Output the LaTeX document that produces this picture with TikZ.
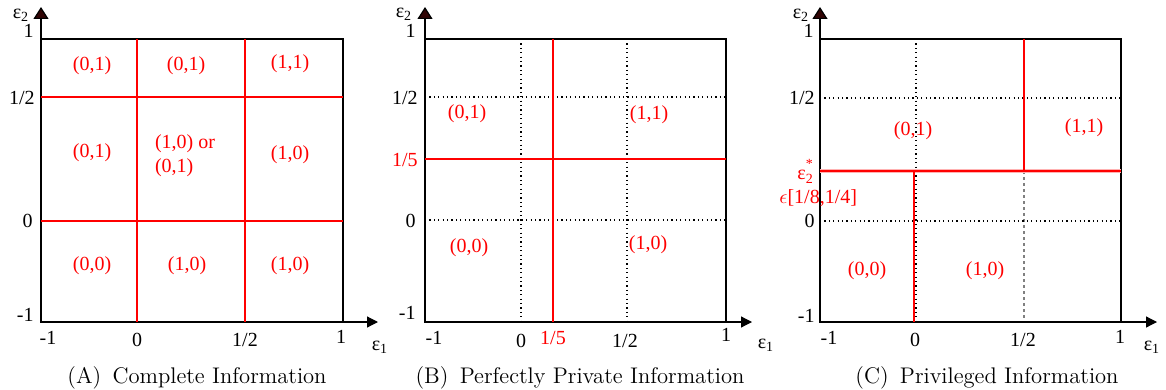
\documentclass[tikz,border=0pt]{standalone}
\usepackage{fontspec}
\newfontfamily\lab{Liberation Serif}
\usetikzlibrary{arrows.meta}
\begin{document}
\begin{tikzpicture}[x=0.5pt,y=-0.5pt,
  frame/.style={black, line width=1pt},
  redl/.style={red, line width=1pt},
  dotl/.style={black, line width=0.55pt, dash pattern=on 0.6pt off 1.6pt},
  gdash/.style={gray, line width=0.6pt, dash pattern=on 1.6pt off 1.4pt},
  axis/.style={line width=0.6pt, -{Triangle[length=5.5pt,width=5.5pt]}},
  yaxis/.style={line width=0.6pt, -{Triangle[length=6pt,width=7.5pt,fill={rgb,255:red,50;green,5;blue,5}]}},
  lbl/.style={font=\lab\fontsize{10}{12}\selectfont, text=red, inner sep=0pt},
  tick/.style={font=\lab\fontsize{10}{12}\selectfont, inner sep=0pt},
  captxt/.style={font=\fontsize{11.3}{13}\selectfont, inner sep=0pt}]
\useasboundingbox (0,0) rectangle (1166,390);

% ---------------- Panel A ----------------
\draw[yaxis] (41,322) -- (41,7);
\draw[axis] (41,322) -- (378,322);
\draw[frame] (41,39) rectangle (343,322);
\draw[redl] (137,39) -- (137,322);
\draw[redl] (245,39) -- (245,322);
\draw[redl] (41,97) -- (343,97);
\draw[redl] (41,221) -- (343,221);
\node[tick] (ae2) at (21,15) {ε\textsubscript{2}};
\node[tick, anchor=east] (ay1) at (34,31) {1};
\node[tick, anchor=east] (ayh) at (35,98) {1/2};
\node[tick, anchor=east] (ay0) at (33,221) {0};
\node[tick, anchor=east] (aym) at (34,315) {-1};
\node[tick] (axm) at (48,338) {-1};
\node[tick] (ax0) at (137,340) {0};
\node[tick] (axh) at (245,340) {1/2};
\node[tick] (ax1) at (341,337) {1};
\node[tick] (ae1) at (380,347) {ε\textsubscript{1}};
\node[lbl] (a11) at (92,66) {(0,1)};
\node[lbl] (a12) at (186,66) {(0,1)};
\node[lbl] (a13) at (290,64) {(1,1)};
\node[lbl] (a21) at (92,153) {(0,1)};
\node[lbl, align=left] (a22) at (185,156) {(1,0) or\\(0,1)};
\node[lbl] (a23) at (290,155) {(1,0)};
\node[lbl] (a31) at (92,266) {(0,0)};
\node[lbl] (a32) at (187,266) {(1,0)};
\node[lbl] (a33) at (290,266) {(1,0)};
\node[captxt] (capA) at (197,378) {(A)\enspace Complete Information};

% ---------------- Panel B ----------------
\draw[dotl] (521,39) -- (521,322);
\draw[dotl] (627,39) -- (627,322);
\draw[dotl] (425,97) -- (726,97);
\draw[dotl] (425,220) -- (726,220);
\draw[yaxis] (425,322) -- (425,7);
\draw[axis] (425,322) -- (752,322);
\draw[frame] (425,39) rectangle (726,322);
\draw[redl] (553,39) -- (553,322);
\draw[redl] (425,159) -- (726,159);
\node[tick] (be2) at (404,14) {ε\textsubscript{2}};
\node[tick, anchor=east] (by1) at (416,31) {1};
\node[tick, anchor=east] (byh) at (418,98) {1/2};
\node[tick, anchor=east, text=red] (byf) at (418,160) {1/5};
\node[tick, anchor=east] (by0) at (416,221) {0};
\node[tick, anchor=east] (bym) at (416,313) {-1};
\node[tick] (bxm) at (434,338) {-1};
\node[tick] (bx0) at (521,341) {0};
\node[tick, text=red] (bxf) at (553,338) {1/5};
\node[tick] (bxh) at (625,341) {1/2};
\node[tick] (bx1) at (726,335) {1};
\node[tick] (be1) at (766,345) {ε\textsubscript{1}};
\node[lbl] (b1) at (467,114) {(0,1)};
\node[lbl] (b2) at (649,115) {(1,1)};
\node[lbl] (b3) at (469,248) {(0,0)};
\node[lbl] (b4) at (648,245) {(1,0)};
\node[captxt] (capB) at (580,378) {(B)\enspace Perfectly Private Information};

% ---------------- Panel C ----------------
\draw[dotl] (916,39) -- (916,322);
\draw[gdash] (1024,39) -- (1024,322);
\draw[dotl] (820,98) -- (1121,98);
\draw[dotl] (820,221) -- (1121,221);
\draw[yaxis] (820,322) -- (820,7);
\draw[axis] (820,322) -- (1157,322);
\draw[frame] (820,39) rectangle (1121,322);
\draw[red!30, line width=2pt] (820,171) -- (1121,171);
\draw[redl] (820,171) -- (1121,171);
\draw[redl] (914,171) -- (914,322);
\draw[redl] (1024,39) -- (1024,171);
\node[tick] (ce2) at (801,15) {ε\textsubscript{2}};
\node[tick, anchor=east] (cy1) at (814,31) {1};
\node[tick, anchor=east] (cyh) at (815,98) {1/2};
\node[tick, text=red, align=left, anchor=west] (cst) at (779,183)
  {\hspace*{9pt}ε\rlap{\raisebox{5.5pt}{\fontsize{7}{8}\selectfont *}}\raisebox{-2pt}{\fontsize{7}{8}\selectfont 2}\\$\epsilon$[1/8,1/4]};
\node[tick, anchor=east] (cy0) at (815,221) {0};
\node[tick, anchor=east] (cym) at (815,316) {-1};
\node[tick] (cxm) at (829,338) {-1};
\node[tick] (cx0) at (915,340) {0};
\node[tick] (cxh) at (1023,340) {1/2};
\node[tick] (cx1) at (1120,337) {1};
\node[tick] (ce1) at (1152,347) {ε\textsubscript{1}};
\node[lbl] (c1) at (913,131) {(0,1)};
\node[lbl] (c2) at (1084,128) {(1,1)};
\node[lbl] (c3) at (867,271) {(0,0)};
\node[lbl] (c4) at (985,271) {(1,0)};
\node[captxt] (capC) at (987,378) {(C)\enspace Privileged Information};
\end{tikzpicture}
\end{document}
